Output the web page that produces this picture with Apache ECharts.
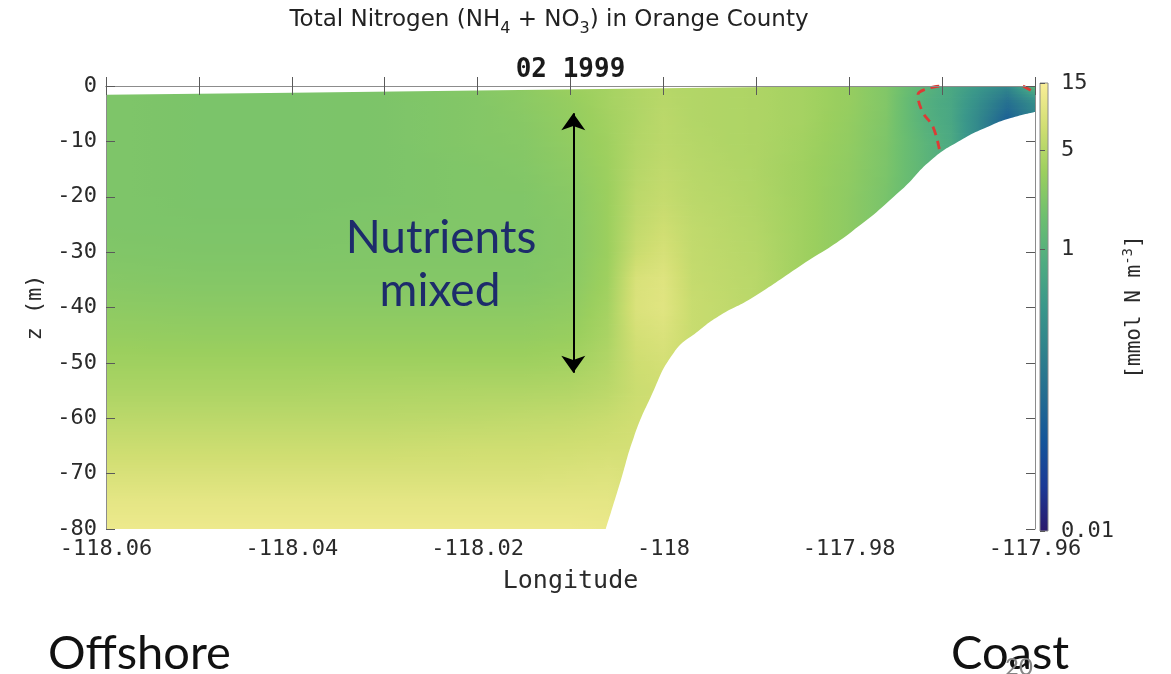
<!DOCTYPE html>
<html>
<head>
<meta charset="utf-8">
<title>Total Nitrogen in Orange County</title>
<script src="https://cdn.jsdelivr.net/npm/echarts@6/dist/echarts.min.js"></script>
<style>
  html, body { margin: 0; padding: 0; background: #fff; }
  #section { width: 1171px; height: 674px; }
</style>
</head>
<body>
<div id="section"></div>
<script>
// model grid nodes of the cross-shore section
const longitudes = [-118.06, -118.05, -118.04, -118.03, -118.02, -118.015, -118.01, -118.006, -118.003, -118.0,
  -117.997, -117.993, -117.99, -117.985, -117.98, -117.976, -117.972, -117.969, -117.966, -117.963, -117.96];
const depths = [0, -3, -6, -10, -15, -20, -25, -30, -35, -40, -45, -50, -55, -60, -65, -70, -75, -80];

// total nitrogen (mmol N m^-3), one row per depth
const nitrogen = [
  [2.2, 2.1, 2.1, 2.15, 2.5, 2.8, 3.5, 4.0, 4.6, 5.0, 4.8, 4.6, 4.5, 4.0, 3.2, 2.3, 1.12, 0.69, 0.39, 0.22, 1.25],
  [2.2, 2.1, 2.1, 2.15, 2.4, 2.7, 3.2, 4.0, 4.6, 5.2, 4.8, 4.6, 4.5, 4.0, 3.2, 2.3, 0.93, 0.65, 0.27, 0.10, 0.27],
  [2.2, 2.1, 2.1, 2.15, 2.4, 2.6, 3.1, 3.85, 4.6, 5.4, 4.8, 4.6, 4.5, 4.0, 3.1, 2.24, 0.97, 0.65, 0.22, 0.062, 0.19],
  [2.2, 2.1, 2.1, 2.15, 2.4, 2.5, 3.0, 3.7, 4.8, 5.4, 5.0, 4.6, 4.5, 3.85, 3.0, 2.15, 1.12, 0.72, 0.22, 0.062, 0.19],
  [2.2, 2.1, 2.1, 2.15, 2.3, 2.4, 2.8, 3.6, 5.0, 5.8, 5.2, 4.8, 4.5, 3.7, 2.9, 2.1, 1.16, 0.75, 0.22, 0.062, 0.19],
  [2.2, 2.1, 2.1, 2.15, 2.3, 2.3, 2.6, 3.5, 5.4, 6.2, 5.4, 5.0, 4.6, 3.7, 2.8, 2.0, 1.16, 0.75, 0.22, 0.062, 0.19],
  [2.2, 2.15, 2.15, 2.24, 2.3, 2.3, 2.5, 3.5, 5.8, 7.0, 5.8, 5.2, 4.8, 3.7, 2.8, 2.0, 1.16, 0.75, 0.22, 0.062, 0.19],
  [2.3, 2.24, 2.24, 2.3, 2.3, 2.3, 2.5, 3.5, 6.5, 8.0, 6.0, 5.4, 5.0, 3.7, 2.8, 2.0, 1.16, 0.75, 0.22, 0.062, 0.19],
  [2.5, 2.4, 2.4, 2.4, 2.4, 2.4, 2.6, 3.7, 8.3, 9.3, 6.2, 5.6, 5.2, 3.7, 2.8, 2.0, 1.16, 0.75, 0.22, 0.062, 0.19],
  [2.8, 2.7, 2.7, 2.7, 2.7, 2.7, 2.9, 4.0, 8.6, 9.6, 6.5, 5.8, 5.2, 3.7, 2.8, 2.0, 1.16, 0.75, 0.22, 0.062, 0.19],
  [3.2, 3.1, 3.1, 3.1, 3.1, 3.1, 3.3, 4.3, 7.7, 8.6, 6.5, 5.8, 5.2, 3.7, 2.8, 2.0, 1.16, 0.75, 0.22, 0.062, 0.19],
  [3.7, 3.7, 3.7, 3.7, 3.7, 3.7, 3.9, 4.8, 7.0, 7.7, 6.5, 5.8, 5.2, 3.7, 2.8, 2.0, 1.16, 0.75, 0.22, 0.062, 0.19],
  [4.4, 4.4, 4.4, 4.5, 4.6, 4.6, 4.8, 5.4, 6.7, 7.2, 6.5, 5.8, 5.2, 3.7, 2.8, 2.0, 1.16, 0.75, 0.22, 0.062, 0.19],
  [5.4, 5.4, 5.4, 5.4, 5.6, 5.8, 6.0, 6.5, 7.2, 7.2, 6.5, 5.8, 5.2, 3.7, 2.8, 2.0, 1.16, 0.75, 0.22, 0.062, 0.19],
  [6.7, 6.7, 6.7, 6.7, 7.0, 7.0, 7.2, 7.5, 7.7, 7.2, 6.5, 5.8, 5.2, 3.7, 2.8, 2.0, 1.16, 0.75, 0.22, 0.062, 0.19],
  [8.3, 8.3, 8.3, 8.3, 8.3, 8.3, 8.6, 8.9, 8.3, 7.2, 6.5, 5.8, 5.2, 3.7, 2.8, 2.0, 1.16, 0.75, 0.22, 0.062, 0.19],
  [10.3, 10.3, 10.3, 10.3, 10.3, 10.3, 10.3, 10.3, 8.3, 7.2, 6.5, 5.8, 5.2, 3.7, 2.8, 2.0, 1.16, 0.75, 0.22, 0.062, 0.19],
  [12.0, 12.0, 12.0, 12.0, 12.0, 12.0, 12.0, 11.5, 8.3, 7.2, 6.5, 5.8, 5.2, 3.7, 2.8, 2.0, 1.16, 0.75, 0.22, 0.062, 0.19]
];

// top of the water column
const surfaceLon = [-118.06, -118.04, -118.02, -118.0, -117.98, -117.96];
const surfaceZ = [-1.6, -1.2, -0.8, -0.4, 0, 0];

// bottom (white below)
const seafloorLon = [-118.0062, -118.0046, -118.0032, -118.0014, -117.9989, -117.9962, -117.9938, -117.9906,
  -117.9852, -117.9798, -117.9744, -117.9712, -117.968, -117.9647, -117.9626, -117.96];
const seafloorZ = [-80, -71.3, -63.5, -56.3, -48.2, -44.2, -41.3, -38.4, -32.4, -26.4, -18.8, -13.4, -9.8, -7.1, -5.8, -4.7];

// red dashed contour near the coast
const contourLon = [-117.9703, -117.9718, -117.9726, -117.9721, -117.971, -117.9703];
const contourZ = [0, -0.6, -1.6, -4.7, -7.3, -11.4];
const contour2Lon = [-117.9613, -117.96];
const contour2Z = [0, -1.2];

// "Nutrients mixed" arrow
const arrowLon = -118.0097;
const arrowZ = [-4.9, -51.8];

// tick labels
const lonLabels = [-118.06, -118.04, -118.02, -118, -117.98, -117.96];
const colorTicks = [15, 5, 1, 0.01];

// colour map (dark navy -> teal -> green -> pale yellow)
const paletteStops = [
  [0.00, '#2a186c'], [0.10, '#1b3a96'], [0.20, '#14559a'], [0.30, '#236c91'],
  [0.40, '#2f828c'], [0.50, '#3a978a'], [0.60, '#4fac81'], [0.70, '#6dbf6f'],
  [0.80, '#9bcf5e'], [0.90, '#d0de72'], [1.00, '#faee98']
];

const logMin = Math.log10(0.01);
const logMax = Math.log10(15);

function hexToRgb(h) {
  return [parseInt(h.slice(1, 3), 16), parseInt(h.slice(3, 5), 16), parseInt(h.slice(5, 7), 16)];
}
const paletteRgb = paletteStops.map(s => [s[0], hexToRgb(s[1])]);

// log10 value -> colour
function colorAt(logV) {
  let t = (logV - logMin) / (logMax - logMin);
  t = Math.max(0, Math.min(1, t));
  for (let k = 1; k < paletteRgb.length; k++) {
    if (t <= paletteRgb[k][0]) {
      const a = paletteRgb[k - 1], b = paletteRgb[k];
      const f = (t - a[0]) / (b[0] - a[0]);
      const c = a[1].map((x, n) => Math.round(x + (b[1][n] - x) * f));
      return 'rgb(' + c.join(',') + ')';
    }
  }
  return paletteStops[paletteStops.length - 1][1];
}

const logN = nitrogen.map(row => row.map(v => Math.log10(v)));

// one item per grid cell
const cells = [];
for (let j = 0; j < depths.length - 1; j++) {
  for (let i = 0; i < longitudes.length - 1; i++) {
    cells.push([(longitudes[i] + longitudes[i + 1]) / 2, (depths[j] + depths[j + 1]) / 2, i, j]);
  }
}

// shade a cell: thin strips, each a horizontal gradient between the corner values
function renderCell(params, api) {
  const i = api.value(2), j = api.value(3);
  const p0 = api.coord([longitudes[i], depths[j]]);
  const p1 = api.coord([longitudes[i + 1], depths[j + 1]]);
  const a = logN[j][i], b = logN[j][i + 1], c = logN[j + 1][i], d = logN[j + 1][i + 1];
  const w = p1[0] - p0[0], h = p1[1] - p0[1];
  const n = Math.max(2, Math.ceil(h / 3));
  const children = [];
  for (let k = 0; k < n; k++) {
    const f = (k + 0.5) / n;
    const left = a + (c - a) * f, right = b + (d - b) * f;
    const stops = [];
    for (let s = 0; s <= 4; s++) {
      stops.push({ offset: s / 4, color: colorAt(left + (right - left) * s / 4) });
    }
    children.push({
      type: 'rect',
      shape: { x: p0[0], y: p0[1] + h * k / n, width: w + 0.8, height: h / n + 0.8 },
      style: { fill: new echarts.graphic.LinearGradient(0, 0, 1, 0, stops) }
    });
  }
  return { type: 'group', children: children };
}

// colour bar
function renderColorbar(params, api) {
  const top = api.coord([0, logMax]);
  const bottom = api.coord([1, logMin]);
  return {
    type: 'rect',
    shape: { x: top[0], y: top[1], width: bottom[0] - top[0], height: bottom[1] - top[1] },
    style: {
      fill: new echarts.graphic.LinearGradient(0, 1, 0, 0,
        paletteStops.map(s => ({ offset: s[0], color: s[1] }))),
      stroke: '#8c8c8c',
      lineWidth: 1
    }
  };
}

const monoFont = 'DejaVu Sans Mono';
const labelColor = '#2a2a2a';
const lineColor = '#8c8c8c';
const tickColor = '#5a5a5a';

const chart = echarts.init(document.getElementById('section'));

const option = {
  animation: false,
  backgroundColor: '#fff',
  grid: [
    { left: 106, right: 136, top: 86, bottom: 145 },
    { left: 1040, width: 8, top: 83, bottom: 143 }
  ],
  xAxis: [
    {
      gridIndex: 0, type: 'value', min: -118.06, max: -117.96, interval: 0.01, position: 'bottom', z: 6,
      axisLine: { show: true, lineStyle: { color: lineColor, width: 1 } },
      axisTick: { show: true, inside: true, length: 9, lineStyle: { color: tickColor } },
      axisLabel: {
        customValues: lonLabels, margin: 9,
        fontFamily: monoFont, fontSize: 22, color: labelColor,
        formatter: v => String(+v.toFixed(2))
      },
      splitLine: { show: false },
      name: 'Longitude', nameLocation: 'middle', nameGap: 40,
      nameTextStyle: { fontFamily: monoFont, fontSize: 25, color: labelColor }
    },
    {
      gridIndex: 0, type: 'value', min: -118.06, max: -117.96, interval: 0.01, position: 'top', z: 6,
      axisLine: { show: true, lineStyle: { color: lineColor, width: 1 } },
      axisTick: { show: true, inside: true, length: 9, lineStyle: { color: tickColor } },
      axisLabel: { show: false },
      splitLine: { show: false },
      name: '02 1999', nameLocation: 'middle', nameGap: 3,
      nameTextStyle: { fontFamily: monoFont, fontSize: 26, fontWeight: 'bold', color: '#1a1a1a' }
    },
    { gridIndex: 1, type: 'value', min: 0, max: 1, show: false }
  ],
  yAxis: [
    {
      gridIndex: 0, type: 'value', min: -80, max: 0, interval: 10, position: 'left', z: 6,
      axisLine: { show: true, lineStyle: { color: lineColor, width: 1 } },
      axisTick: { show: true, inside: true, length: 9, lineStyle: { color: tickColor } },
      axisLabel: { margin: 9, fontFamily: monoFont, fontSize: 22, color: labelColor },
      splitLine: { show: false },
      name: 'z (m)', nameLocation: 'middle', nameGap: 57,
      nameTextStyle: { fontFamily: monoFont, fontSize: 22, color: labelColor }
    },
    {
      gridIndex: 0, type: 'value', min: -80, max: 0, interval: 10, position: 'right', z: 6,
      axisLine: { show: true, lineStyle: { color: lineColor, width: 1 } },
      axisTick: { show: true, inside: true, length: 9, lineStyle: { color: tickColor } },
      axisLabel: { show: false },
      splitLine: { show: false }
    },
    {
      gridIndex: 1, type: 'value', min: logMin, max: logMax, position: 'right', z: 6,
      axisLine: { show: false },
      axisTick: {
        show: true, inside: false, length: 5,
        customValues: colorTicks.map(v => Math.log10(v)),
        lineStyle: { color: tickColor }
      },
      axisLabel: {
        customValues: colorTicks.map(v => Math.log10(v)), margin: 13,
        fontFamily: monoFont, fontSize: 22, color: labelColor,
        formatter: v => String(+Math.pow(10, v).toPrecision(3))
      },
      splitLine: { show: false },
      name: '{a|[mmol N m}{p|-3}{a|]}', nameLocation: 'middle', nameRotate: 90, nameGap: 73,
      nameTextStyle: {
        rich: {
          a: { fontFamily: monoFont, fontSize: 21, color: labelColor, lineHeight: 28 },
          p: { fontFamily: monoFont, fontSize: 14, color: labelColor, lineHeight: 14, verticalAlign: 'top' }
        }
      }
    }
  ],
  series: [
    {
      name: 'Total nitrogen', type: 'custom', xAxisIndex: 0, yAxisIndex: 0,
      renderItem: renderCell, data: cells, encode: { x: 0, y: 1 }, clip: true, silent: true, z: 1
    },
    {
      name: 'surface', type: 'line', xAxisIndex: 0, yAxisIndex: 0, z: 3, silent: true,
      data: surfaceLon.map((x, k) => [x, surfaceZ[k]]),
      symbol: 'none', lineStyle: { width: 0 },
      areaStyle: { color: '#fff', opacity: 1, origin: 'end' }
    },
    {
      name: 'seafloor', type: 'line', xAxisIndex: 0, yAxisIndex: 0, z: 3, silent: true, smooth: 0.5,
      data: seafloorLon.map((x, k) => [x, seafloorZ[k]]),
      symbol: 'none', lineStyle: { width: 0 },
      areaStyle: { color: '#fff', opacity: 1, origin: 'start' },
      markLine: {
        silent: true, symbol: ['arrow', 'arrow'], symbolSize: [18, 17],
        lineStyle: { color: '#000', width: 2, type: 'solid' },
        label: { show: false },
        data: [[{ coord: [arrowLon, arrowZ[0]] }, { coord: [arrowLon, arrowZ[1]] }]]
      }
    },
    {
      name: 'contour', type: 'line', xAxisIndex: 0, yAxisIndex: 0, z: 4, silent: true, smooth: 0.4,
      data: contourLon.map((x, k) => [x, contourZ[k]]),
      symbol: 'none', lineStyle: { color: '#dc3b35', width: 2.8, type: [9, 6] }
    },
    {
      name: 'contour2', type: 'line', xAxisIndex: 0, yAxisIndex: 0, z: 4, silent: true,
      data: contour2Lon.map((x, k) => [x, contour2Z[k]]),
      symbol: 'none', lineStyle: { color: '#dc3b35', width: 2.8, type: [9, 6] }
    },
    {
      name: 'colorbar', type: 'custom', xAxisIndex: 2, yAxisIndex: 2, silent: true,
      renderItem: renderColorbar, data: [[0.5, 0]], encode: { x: 0, y: 1 }
    }
  ],
  graphic: [
    {
      type: 'text', x: 549, y: 20, z: 100, silent: true,
      style: {
        text: '{a|Total Nitrogen (NH}{s|4}{a| + NO}{s|3}{a|) in Orange County}',
        textAlign: 'center', align: 'center', textVerticalAlign: 'middle', verticalAlign: 'middle',
        rich: {
          a: { fontFamily: 'DejaVu Sans', fontSize: 23, lineHeight: 34, fill: '#222' },
          s: { fontFamily: 'DejaVu Sans', fontSize: 16, lineHeight: 16, verticalAlign: 'bottom', fill: '#222' }
        }
      }
    },
    {
      type: 'text', x: 441, y: 238, z: 100, silent: true,
      style: { text: 'Nutrients', fontFamily: 'Lato', fontSize: 46, fill: '#1d2b6b',
        textAlign: 'center', align: 'center', textVerticalAlign: 'middle', verticalAlign: 'middle' }
    },
    {
      type: 'text', x: 440, y: 291, z: 100, silent: true,
      style: { text: 'mixed', fontFamily: 'Lato', fontSize: 46, fill: '#1d2b6b',
        textAlign: 'center', align: 'center', textVerticalAlign: 'middle', verticalAlign: 'middle' }
    },
    {
      type: 'text', x: 48, y: 654, z: 100, silent: true,
      style: { text: 'Offshore', fontFamily: 'Lato', fontSize: 47, fill: '#111',
        textAlign: 'left', align: 'left', textVerticalAlign: 'middle', verticalAlign: 'middle' }
    },
    {
      type: 'text', x: 951, y: 654, z: 100, silent: true,
      style: { text: 'Coast', fontFamily: 'Lato', fontSize: 47, fill: '#111',
        textAlign: 'left', align: 'left', textVerticalAlign: 'middle', verticalAlign: 'middle' }
    },
    {
      type: 'text', x: 1019, y: 667, z: 100, silent: true,
      style: { text: '20', fontFamily: 'Lato', fontSize: 24, fill: '#858585',
        textAlign: 'center', align: 'center', textVerticalAlign: 'middle', verticalAlign: 'middle' }
    }
  ]
};

chart.setOption(option);
</script>
</body>
</html>
